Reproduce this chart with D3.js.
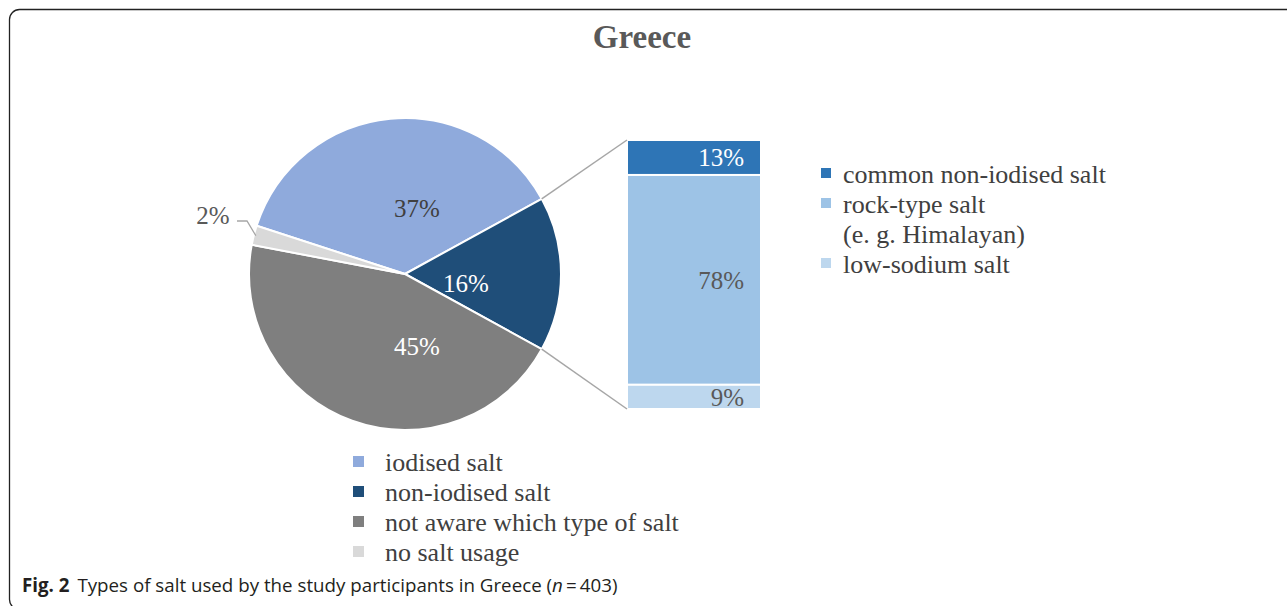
<!DOCTYPE html>
<html>
<head>
<meta charset="utf-8">
<script src="https://cdn.jsdelivr.net/npm/d3@7"></script>
<style>
  html, body { margin: 0; padding: 0; background: #fff; }
  svg { display: block; }
</style>
</head>
<body>
<svg id="chart" width="1287" height="606"></svg>
<script>
// Main pie: salt types
const pieCategories = ["iodised salt", "non-iodised salt", "not aware which type of salt", "no salt usage"];
const pieValues = [37, 16, 45, 2];
const pieColors = ["#8FAADC", "#1F4E79", "#7F7F7F", "#D9D9D9"];
const pieLabelColors = ["#404040", "#FFFFFF", "#FFFFFF", "#595959"];

// Breakdown of non-iodised salt (stacked bar)
const barCategories = ["common non-iodised salt", "rock-type salt\n(e. g. Himalayan)", "low-sodium salt"];
const barValues = [13, 78, 9];
const barColors = ["#2E75B6", "#9DC3E6", "#BDD7EE"];
const barLabelColors = ["#FFFFFF", "#595959", "#595959"];

const titleText = "Greece";

const svg = d3.select("#chart");
const serif = "'Liberation Serif', 'Times New Roman', serif";

// frame (open at the right and bottom edges of the page)
svg.append("rect")
  .attr("x", 9.5).attr("y", 9.5)
  .attr("width", 1400).attr("height", 600)
  .attr("rx", 10).attr("ry", 10)
  .attr("fill", "none").attr("stroke", "#222").attr("stroke-width", 1.3);

// title
svg.append("text")
  .attr("x", 642).attr("y", 48)
  .attr("text-anchor", "middle")
  .attr("font-family", serif).attr("font-weight", "bold")
  .attr("font-size", 33).attr("fill", "#595959")
  .text(titleText);

// ---- pie ----
const cx = 405, cy = 274, R = 156;
const startDeg = -72;
const pie = d3.pie().sort(null)
  .startAngle(startDeg * Math.PI / 180)
  .endAngle((startDeg + 360) * Math.PI / 180);
const arcs = pie(pieValues);
const arc = d3.arc().innerRadius(0).outerRadius(R);

const gPie = svg.append("g").attr("transform", `translate(${cx},${cy})`);
gPie.selectAll("path").data(arcs).join("path")
  .attr("d", arc)
  .attr("fill", (d, i) => pieColors[i])
  .attr("stroke", "#fff").attr("stroke-width", 2).attr("stroke-linejoin", "round");

// label anchors relative to pie centre
const labelOffsets = [[12, -57], [61, 18], [12, 81], [-192, -50]];
gPie.selectAll("text.pl").data(arcs).join("text")
  .attr("class", "pl")
  .attr("x", (d, i) => labelOffsets[i][0])
  .attr("y", (d, i) => labelOffsets[i][1])
  .attr("text-anchor", "middle")
  .attr("font-family", serif).attr("font-size", 25)
  .attr("fill", (d, i) => pieLabelColors[i])
  .text(d => d.value + "%");

// leader line for the small slice
{
  const d = arcs[3];
  const mid = (d.startAngle + d.endAngle) / 2;
  const px = Math.sin(mid) * (R - 2), py = -Math.cos(mid) * (R - 2);
  gPie.append("path")
    .attr("d", `M${-168},${-53} L${-158},${-53} L${px},${py}`)
    .attr("fill", "none").attr("stroke", "#A6A6A6").attr("stroke-width", 1.3);
}

// ---- stacked bar ----
const barX = 627, barW = 134, barTop = 140, barBottom = 409;
const y = d3.scaleLinear().domain([0, d3.sum(barValues)]).range([barTop, barBottom]);
let acc = 0;
const stacks = barValues.map((v, i) => { const s = { i, v, y0: acc, y1: acc + v }; acc += v; return s; });

const gBar = svg.append("g");
gBar.selectAll("rect").data(stacks).join("rect")
  .attr("x", barX).attr("width", barW)
  .attr("y", d => y(d.y0)).attr("height", d => y(d.y1) - y(d.y0))
  .attr("fill", d => barColors[d.i])
  .attr("stroke", "#fff").attr("stroke-width", 2);

gBar.selectAll("text").data(stacks).join("text")
  .attr("x", 744)
  .attr("y", d => (y(d.y0) + y(d.y1)) / 2 + 9)
  .attr("text-anchor", "end")
  .attr("font-family", serif).attr("font-size", 25)
  .attr("fill", d => barLabelColors[d.i])
  .text(d => d.v + "%");

// connector lines from the exploded slice to the bar
{
  const d = arcs[1];
  const p1 = [cx + Math.sin(d.startAngle) * R, cy - Math.cos(d.startAngle) * R];
  const p2 = [cx + Math.sin(d.endAngle) * R, cy - Math.cos(d.endAngle) * R];
  svg.append("line").attr("x1", p1[0]).attr("y1", p1[1]).attr("x2", barX).attr("y2", barTop)
    .attr("stroke", "#A6A6A6").attr("stroke-width", 1.5);
  svg.append("line").attr("x1", p2[0]).attr("y1", p2[1]).attr("x2", barX).attr("y2", barBottom)
    .attr("stroke", "#A6A6A6").attr("stroke-width", 1.5);
}

// ---- legends ----
function legend(items, colors, x, y0, step, sw, gap) {
  const g = svg.append("g");
  let line = 0;
  items.forEach((label, i) => {
    const lines = label.split("\n");
    const by = y0 + line * step;
    g.append("rect")
      .attr("x", x).attr("y", by - 15)
      .attr("width", sw).attr("height", sw)
      .attr("fill", colors[i]);
    const t = g.append("text")
      .attr("font-family", serif).attr("font-size", 26).attr("fill", "#404040");
    lines.forEach((l, k) => {
      t.append("tspan").attr("x", x + sw + gap).attr("y", by + k * step).text(l);
    });
    line += lines.length;
  });
}
legend(barCategories, barColors, 821, 183, 30, 10, 12);
legend(pieCategories, pieColors, 353, 471, 30, 11, 21);

// ---- caption ----
const cap = svg.append("text")
  .attr("x", 22).attr("y", 592)
  .attr("font-family", "'Open Sans', 'Noto Sans', sans-serif")
  .attr("font-size", 19).attr("fill", "#231F20");
cap.append("tspan").attr("font-weight", "bold").text("Fig. 2");
cap.append("tspan").attr("dx", 8).text("Types of salt used by the study participants in Greece (");
cap.append("tspan").attr("font-style", "italic").text("n");
cap.append("tspan").text("\u2009=\u2009403)");
{
  const w = cap.node().getBBox().width;
  const target = 596;
  cap.attr("transform", `translate(22,0) scale(${target / w},1) translate(-22,0)`);
}
</script>
</body>
</html>
